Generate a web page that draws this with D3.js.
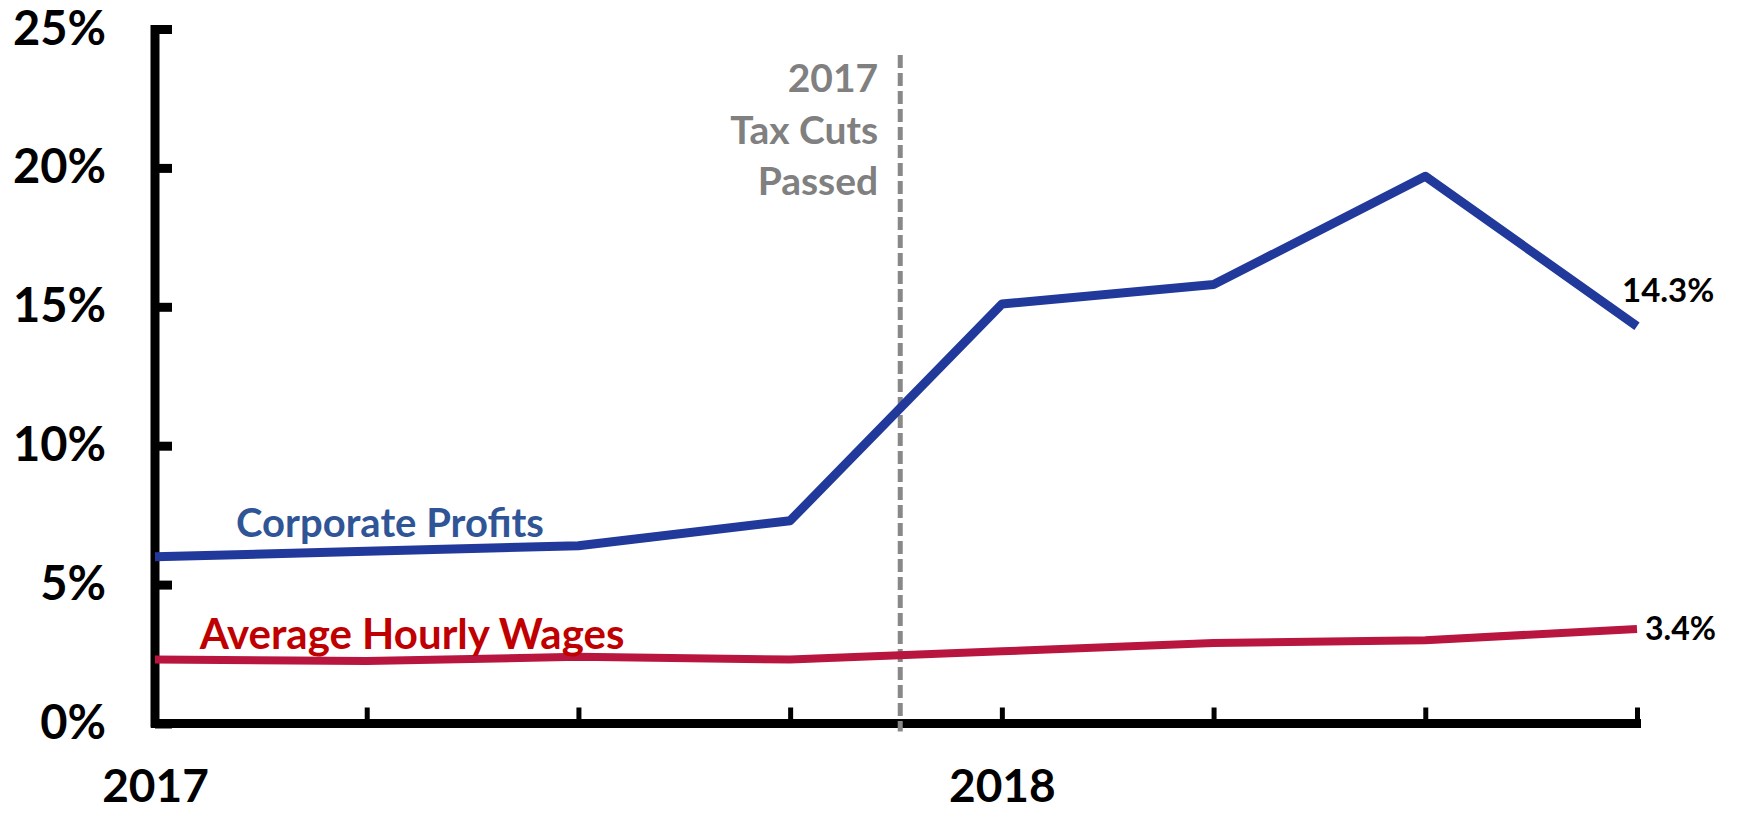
<!DOCTYPE html>
<html>
<head>
<meta charset="utf-8">
<script src="https://cdn.jsdelivr.net/npm/d3@7"></script>
<style>
  html, body { margin: 0; padding: 0; background: #fff; }
  svg { display: block; font-family: Lato, "Open Sans", sans-serif; font-weight: bold; }
</style>
</head>
<body>
<div id="chart"></div>
<script>
// Quarterly year-over-year growth, 2017 Q1 - 2018 Q4
const quarters = ['2017 Q1', '2017 Q2', '2017 Q3', '2017 Q4', '2018 Q1', '2018 Q2', '2018 Q3', '2018 Q4'];
const corporateProfits = [6.0, 6.2, 6.4, 7.3, 15.1, 15.8, 19.7, 14.3];
const hourlyWages = [2.3, 2.25, 2.4, 2.3, 2.6, 2.9, 3.0, 3.4];
const yTicks = [0, 5, 10, 15, 20, 25];
const yearLabels = { '2017 Q1': '2017', '2018 Q1': '2018' };
const taxCutPosition = 3.52; // between 2017 Q4 and 2018 Q1
const taxCutLines = ['2017', 'Tax Cuts', 'Passed'];

const width = 1737, height = 813;
const plot = { left: 155, right: 1637, top: 29, bottom: 723.5 };

const svg = d3.select('#chart').append('svg')
    .attr('width', width)
    .attr('height', height);

const x = d3.scalePoint()
    .domain(quarters)
    .range([plot.left, plot.right]);

const xIndex = d3.scaleLinear()
    .domain([0, quarters.length - 1])
    .range([plot.left, plot.right]);

const y = d3.scaleLinear()
    .domain([0, 25])
    .range([plot.bottom, plot.top]);

// Y axis: thick ticks pointing into the plot, labels well to the left
const yAxis = d3.axisLeft(y)
    .tickValues(yTicks)
    .tickSizeInner(-17)
    .tickSizeOuter(0)
    .tickPadding(49)
    .tickFormat(d => d + '%');

const yg = svg.append('g')
    .attr('transform', `translate(${plot.left},0)`)
    .call(yAxis);
yg.select('.domain').remove();
yg.selectAll('.tick line')
    .attr('stroke', '#000')
    .attr('stroke-width', 9);
yg.selectAll('.tick text')
    .attr('fill', '#000')
    .attr('font-size', 47)
    .attr('font-family', 'Lato, sans-serif')
    .attr('font-weight', 'bold');

svg.append('line')
    .attr('x1', plot.left).attr('x2', plot.left)
    .attr('y1', plot.top - 4).attr('y2', plot.bottom + 4)
    .attr('stroke', '#000')
    .attr('stroke-width', 9);

// X axis: small upward ticks, only the year under each Q1
const xAxis = d3.axisBottom(x)
    .tickSizeInner(-16)
    .tickSizeOuter(0)
    .tickFormat(d => yearLabels[d] || '');

const xg = svg.append('g')
    .attr('transform', `translate(0,${plot.bottom})`)
    .call(xAxis);
xg.select('.domain').remove();
xg.selectAll('.tick line')
    .attr('stroke', '#000')
    .attr('stroke-width', 5);
xg.selectAll('.tick text')
    .attr('y', 78)
    .attr('dy', 0)
    .attr('fill', '#000')
    .attr('font-size', 46)
    .attr('font-family', 'Lato, sans-serif')
    .attr('font-weight', 'bold');

svg.append('line')
    .attr('x1', plot.left - 4).attr('x2', plot.right + 4)
    .attr('y1', plot.bottom).attr('y2', plot.bottom)
    .attr('stroke', '#000')
    .attr('stroke-width', 9);

// Tax cut marker
const taxX = xIndex(taxCutPosition);
svg.append('line')
    .attr('x1', taxX).attr('x2', taxX)
    .attr('y1', 55).attr('y2', plot.bottom + 8)
    .attr('stroke', '#888')
    .attr('stroke-width', 5)
    .attr('stroke-dasharray', '13,5');

svg.append('g')
    .selectAll('text')
    .data(taxCutLines)
    .join('text')
    .attr('x', taxX - 22)
    .attr('y', (d, i) => 92 + i * 51.5)
    .attr('text-anchor', 'end')
    .attr('font-size', 39)
    .attr('fill', '#808080')
    .text(d => d);

// Series lines
const line = d3.line()
    .x((d, i) => x(quarters[i]))
    .y(d => y(d));

svg.append('path')
    .datum(hourlyWages)
    .attr('d', line)
    .attr('fill', 'none')
    .attr('stroke', '#B8163F')
    .attr('stroke-width', 8)
    .attr('stroke-linejoin', 'round');

svg.append('path')
    .datum(corporateProfits)
    .attr('d', line)
    .attr('fill', 'none')
    .attr('stroke', '#21399A')
    .attr('stroke-width', 9)
    .attr('stroke-linejoin', 'round');

// Series names
svg.append('text')
    .attr('x', 390)
    .attr('y', y(corporateProfits[0]) - 20)
    .attr('text-anchor', 'middle')
    .attr('font-size', 40)
    .attr('fill', '#2F5597')
    .text('Corporate Profits');

svg.append('text')
    .attr('x', 412)
    .attr('y', y(hourlyWages[0]) - 11)
    .attr('text-anchor', 'middle')
    .attr('font-size', 42)
    .attr('fill', '#C00000')
    .text('Average Hourly Wages');

// End values
const last = quarters.length - 1;
svg.append('text')
    .attr('x', x(quarters[last]) - 15)
    .attr('y', y(corporateProfits[last]) - 24)
    .attr('font-size', 33)
    .attr('fill', '#000')
    .text(corporateProfits[last].toFixed(1) + '%');

svg.append('text')
    .attr('x', x(quarters[last]) + 8)
    .attr('y', y(hourlyWages[last]) + 11)
    .attr('font-size', 32)
    .attr('fill', '#000')
    .text(hourlyWages[last].toFixed(1) + '%');
</script>
</body>
</html>
